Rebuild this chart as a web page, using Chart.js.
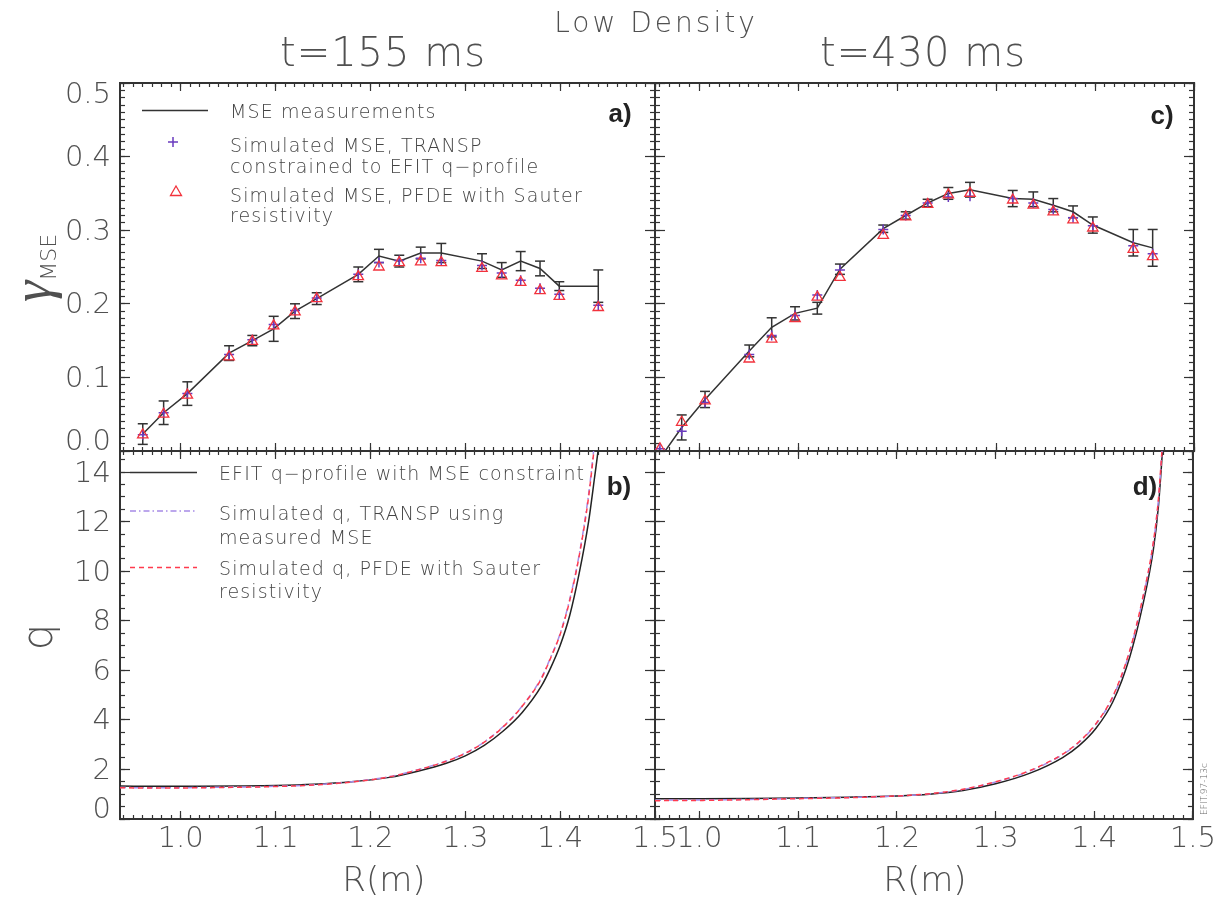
<!DOCTYPE html>
<html>
<head>
<meta charset="utf-8">
<title>Low Density</title>
<script src="https://cdn.jsdelivr.net/npm/chart.js"></script>
<style>
  body { margin: 0; background: #fff; }
  #wrap { position: relative; width: 1227px; height: 899px; overflow: hidden;
          font-family: "DejaVu Sans", sans-serif; font-weight: 200; color: #505050; }
  #wrap canvas { position: absolute; left: 0; top: 0; }
  #marks { position: absolute; left: 0; top: 0; }
  .c { position: absolute; white-space: nowrap; line-height: 1; transform: translate(-50%, -50%); }
  .rot { transform: translate(-50%, -50%) rotate(-90deg); }
  .l { position: absolute; white-space: nowrap; transform: translateY(-50%); color: #444;
       font-size: 19px; letter-spacing: 1.1px; line-height: 21px; }
  .tag { position: absolute; transform: translate(-50%, -50%); color: #222;
         font: bold 26px "Liberation Sans", Arial, sans-serif; }
  .gam { font-family: "Liberation Serif", serif; font-style: italic; font-weight: normal; font-size: 54px; }
</style>
</head>
<body>
<div id="wrap">
  <canvas id="pa" width="1227" height="899"></canvas>
  <canvas id="pb" width="1227" height="899"></canvas>
  <canvas id="pc" width="1227" height="899"></canvas>
  <canvas id="pd" width="1227" height="899"></canvas>

  <svg id="marks" width="1227" height="899">
    <line x1="142" y1="110.5" x2="208" y2="110.5" stroke="#333" stroke-width="1.5"/>
    <path d="M168 142h10M173 137v10" stroke="#6a3bbf" stroke-width="1.5" fill="none"/>
    <path d="M176 186l5.5 9.5h-11z" stroke="#f2323c" stroke-width="1.3" fill="none"/>
    <line x1="130" y1="472.5" x2="197" y2="472.5" stroke="#333" stroke-width="1.5"/>
    <line x1="130" y1="511" x2="197" y2="511" stroke="#a68be6" stroke-width="1.5" stroke-dasharray="6 3 1.5 3"/>
    <line x1="130" y1="567.5" x2="197" y2="567.5" stroke="#ff3b4e" stroke-width="1.5" stroke-dasharray="5 4"/>
  </svg>

  <div class="c" style="left:656px;top:23px;font-size:28px;letter-spacing:3px">Low Density</div>
  <div class="c" style="left:383px;top:52px;font-size:40px;letter-spacing:1px">t=155 ms</div>
  <div class="c" style="left:923px;top:52px;font-size:40px;letter-spacing:1px">t=430 ms</div>
  <div class="c" style="left:384px;top:879px;font-size:34px">R(m)</div>
  <div class="c" style="left:925px;top:879px;font-size:34px">R(m)</div>
  <div class="c rot" style="left:32px;top:268px;font-size:48px"><span class="gam">γ</span><span style="font-size:22px;position:relative;top:6px">MSE</span></div>
  <div class="c rot" style="left:38px;top:637px;font-size:42px">q</div>
  <div class="c rot" style="left:1204px;top:789px;font-size:9px;color:#666">EFIT.97-13c</div>

  <div class="tag" style="left:620px;top:113px">a)</div>
  <div class="tag" style="left:619px;top:486px">b)</div>
  <div class="tag" style="left:1162px;top:115px">c)</div>
  <div class="tag" style="left:1145px;top:486px">d)</div>

  <div class="l" style="left:230px;top:111px">MSE measurements</div>
  <div class="l" style="left:230px;top:156px">Simulated MSE, TRANSP<br>constrained to EFIT q−profile</div>
  <div class="l" style="left:230px;top:205px;line-height:20px">Simulated MSE, PFDE with Sauter<br>resistivity</div>
  <div class="l" style="left:219px;top:473px">EFIT q−profile with MSE constraint</div>
  <div class="l" style="left:219px;top:525px;line-height:24px">Simulated q, TRANSP using<br>measured MSE</div>
  <div class="l" style="left:219px;top:580px;line-height:23px">Simulated q, PFDE with Sauter<br>resistivity</div>
</div>

<script>
// gamma_MSE, t=155 ms (panel a)
var rA = [0.960, 0.982, 1.007, 1.051, 1.0755, 1.098, 1.1205, 1.1434, 1.1872, 1.209, 1.2304, 1.253, 1.2747, 1.3176, 1.3384, 1.3584, 1.3788, 1.3991, 1.4402];
var measA = [0.023, 0.052, 0.078, 0.133, 0.150, 0.166, 0.190, 0.207, 0.240, 0.265, 0.258, 0.269, 0.269, 0.258, 0.246, 0.258, 0.248, 0.224, 0.224];
var errA = [0.014, 0.016, 0.016, 0.010, 0.007, 0.017, 0.010, 0.008, 0.010, 0.009, 0.008, 0.008, 0.013, 0.010, 0.010, 0.013, 0.010, 0.006, 0.022];
var transpA = [0.022, 0.052, 0.078, 0.131, 0.151, 0.172, 0.191, 0.208, 0.240, 0.256, 0.259, 0.262, 0.259, 0.252, 0.242, 0.232, 0.221, 0.213, 0.198];
var pfdeA = [0.022, 0.050, 0.076, 0.128, 0.149, 0.170, 0.189, 0.207, 0.237, 0.250, 0.256, 0.257, 0.256, 0.248, 0.238, 0.229, 0.218, 0.210, 0.195];

// gamma_MSE, t=430 ms (panel c)
var rC = [0.960, 0.982, 1.0056, 1.0503, 1.073, 1.0966, 1.1191, 1.142, 1.1858, 1.2085, 1.2307, 1.2516, 1.2735, 1.3167, 1.3375, 1.3577, 1.3777, 1.3977, 1.4386, 1.4582];
var measC = [-0.010, 0.032, 0.070, 0.136, 0.168, 0.187, 0.194, 0.247, 0.302, 0.320, 0.337, 0.350, 0.355, 0.343, 0.342, 0.334, 0.325, 0.307, 0.283, 0.276];
var errC = [0.010, 0.017, 0.011, 0.008, 0.013, 0.009, 0.008, 0.007, 0.005, 0.005, 0.005, 0.008, 0.010, 0.011, 0.010, 0.009, 0.008, 0.011, 0.018, 0.025];
var transpC = [0.003, 0.027, 0.066, 0.131, 0.157, 0.184, 0.212, 0.246, 0.301, 0.320, 0.337, 0.345, 0.346, 0.343, 0.337, 0.328, 0.317, 0.306, 0.279, 0.268];
var pfdeC = [0.003, 0.039, 0.068, 0.125, 0.152, 0.180, 0.209, 0.236, 0.293, 0.318, 0.335, 0.348, 0.350, 0.341, 0.334, 0.325, 0.314, 0.303, 0.274, 0.264];

// q profiles, t=155 ms (panel b)
var rQB = [0.936, 0.98, 1.02, 1.06, 1.10, 1.14, 1.18, 1.22, 1.25, 1.28, 1.30, 1.32, 1.34, 1.36, 1.38, 1.39, 1.40, 1.41, 1.42, 1.43, 1.436, 1.441, 1.445];
var qEfitB = [1.33, 1.32, 1.32, 1.33, 1.35, 1.40, 1.50, 1.68, 1.93, 2.25, 2.55, 2.97, 3.55, 4.30, 5.35, 6.10, 7.00, 8.20, 9.90, 12.0, 13.7, 15.2, 16.8];
var qTranspB = [1.27, 1.26, 1.27, 1.29, 1.32, 1.38, 1.50, 1.71, 1.99, 2.34, 2.66, 3.11, 3.73, 4.56, 5.68, 6.52, 7.48, 8.85, 10.65, 13.1, 15.1, 16.9, 18.4];
var qPfdeB = [1.26, 1.25, 1.26, 1.28, 1.31, 1.37, 1.49, 1.70, 1.98, 2.33, 2.65, 3.10, 3.72, 4.55, 5.65, 6.50, 7.45, 8.80, 10.6, 13.0, 15.0, 16.8, 18.3];

// q profiles, t=430 ms (panel d)
var rQD = [0.955, 1.0, 1.05, 1.10, 1.15, 1.20, 1.233, 1.267, 1.30, 1.335, 1.368, 1.385, 1.402, 1.419, 1.436, 1.449, 1.46, 1.465, 1.468, 1.471];
var qEfitD = [0.82, 0.82, 0.83, 0.85, 0.88, 0.93, 1.00, 1.15, 1.42, 1.85, 2.48, 2.97, 3.67, 4.74, 6.54, 8.60, 10.9, 12.6, 14.2, 16.0];
var qTranspD = [0.76, 0.77, 0.79, 0.83, 0.87, 0.93, 1.01, 1.19, 1.49, 1.94, 2.60, 3.11, 3.84, 4.93, 6.76, 8.85, 11.15, 12.85, 14.45, 16.2];
var qPfdeD = [0.74, 0.75, 0.78, 0.82, 0.86, 0.93, 1.02, 1.20, 1.50, 1.96, 2.62, 3.13, 3.86, 4.96, 6.80, 8.90, 11.2, 12.9, 14.5, 16.3];

// axis ticks
var rTicks = [1.0, 1.1, 1.2, 1.3, 1.4, 1.5];
var gammaTicks = [0.0, 0.1, 0.2, 0.3, 0.4, 0.5];
var qTicks = [0, 2, 4, 6, 8, 10, 12, 14];

var W = 1227, H = 899;
var tickFont = { family: "DejaVu Sans", size: 29, weight: "200" };

function steps(from, to, step) {
  var out = [];
  var n = Math.round((to - from) / step);
  for (var i = 0; i <= n; i++) out.push(Math.round((from + i * step) * 1000) / 1000);
  return out;
}

function pts(xs, ys) {
  return xs.map(function (x, i) { return { x: x, y: ys[i] }; });
}

function bars(xs, ys, es) {
  var out = [];
  for (var i = 0; i < xs.length; i++) {
    out.push({ x: xs[i], y: ys[i] - es[i] });
    out.push({ x: xs[i], y: ys[i] + es[i] });
    out.push({ x: xs[i], y: null });
  }
  return out;
}

// o: vals, len (inward tick length), border, marks, fmt, offset
function axis(pos, rng, o) {
  var horiz = pos === "top" || pos === "bottom";
  var t = {
    display: !!o.fmt,
    autoSkip: false, maxRotation: 0, minRotation: 0,
    padding: horiz ? o.len + 3 : o.len + 9,
    labelOffset: o.offset || 0,
    color: "#505050",
    font: tickFont
  };
  if (o.fmt) t.callback = o.fmt;
  return {
    type: "linear", axis: horiz ? "x" : "y", position: pos,
    min: rng[0], max: rng[1], bounds: "data",
    afterBuildTicks: function (s) { s.ticks = o.vals.map(function (v) { return { value: v }; }); },
    afterFit: function (s) { if (horiz) s.height = 0; else s.width = 0; },
    grid: { display: !!o.marks, drawOnChartArea: false, drawTicks: true, tickLength: -o.len,
            tickColor: "#333", tickWidth: 1.2 },
    border: { display: !!o.border, color: "#333", width: 2 },
    ticks: t
  };
}

// the axes take no room of their own, so widen the box that tick labels are clipped to
var labelRoom = {
  id: "labelRoom",
  afterLayout: function (chart) {
    Object.keys(chart.scales).forEach(function (k) {
      var s = chart.scales[k];
      if (!s.options.ticks.display) return;
      if (s.options.position === "left") s.left = 0;
      if (s.options.position === "bottom") s.bottom = chart.height;
    });
  }
};

function fix1(v) { return v.toFixed(1); }
function fix0(v) { return String(Math.round(v)); }

function frame(xr, xMinor, yr, yMajor, yMinor, xLab, yLab) {
  var s = {
    x: axis("bottom", xr, { vals: rTicks, len: 8, border: true, marks: true, fmt: xLab ? fix1 : null }),
    x2: axis("bottom", xr, { vals: xMinor, len: 4, marks: true }),
    xt: axis("top", xr, { vals: rTicks, len: 8, border: true, marks: true }),
    xt2: axis("top", xr, { vals: xMinor, len: 4, marks: true }),
    y: axis("left", yr, { vals: yMajor, len: 10, border: true, marks: true }),
    y2: axis("left", yr, { vals: yMinor, len: 5, marks: true }),
    yr: axis("right", yr, { vals: yMajor, len: 10, border: true, marks: true }),
    yr2: axis("right", yr, { vals: yMinor, len: 5, marks: true })
  };
  if (yLab) {
    // labels at the frame edges sit inside the frame, as in the original plot
    var inner = yMajor.filter(function (v) { return v > yr[0] && v < yr[1]; });
    s.ylab = axis("left", yr, { vals: inner, len: 10, fmt: yLab, offset: 2 });
    s.ylo = axis("left", yr, { vals: [yr[0]], len: 10, fmt: yLab, offset: -9 });
    if (yMajor.indexOf(yr[1]) >= 0) s.yhi = axis("left", yr, { vals: [yr[1]], len: 10, fmt: yLab, offset: 12 });
  }
  return s;
}

function gammaSets(r, meas, err, transp, pfde) {
  return [
    { data: pts(r, meas), borderColor: "#333", borderWidth: 1.5, pointRadius: 0, order: 3 },
    { data: bars(r, meas, err), borderColor: "#333", borderWidth: 1.5, spanGaps: false,
      pointStyle: "line", pointRadius: 5, pointBorderColor: "#333", pointBorderWidth: 1.5, order: 2 },
    { data: pts(r, transp), showLine: false, pointStyle: "cross", pointRadius: 5,
      pointBorderColor: "#6a3bbf", pointBorderWidth: 1.5, order: 1 },
    { data: pts(r, pfde), showLine: false, pointStyle: "triangle", pointRadius: 6,
      pointBackgroundColor: "rgba(0,0,0,0)", pointBorderColor: "#f2323c", pointBorderWidth: 1.3, order: 0 }
  ];
}

function qSets(r, efit, transp, pfde) {
  return [
    { data: pts(r, efit), borderColor: "#222", borderWidth: 1.5, pointRadius: 0,
      cubicInterpolationMode: "monotone", order: 2 },
    { data: pts(r, transp), borderColor: "#a68be6", borderWidth: 1.5, borderDash: [6, 3, 1.5, 3],
      pointRadius: 0, cubicInterpolationMode: "monotone", order: 1 },
    { data: pts(r, pfde), borderColor: "#ff3b4e", borderWidth: 1.5, borderDash: [5, 4],
      pointRadius: 0, cubicInterpolationMode: "monotone", order: 0 }
  ];
}

function makeChart(id, area, datasets, scales) {
  return new Chart(document.getElementById(id), {
    type: "line",
    data: { datasets: datasets },
    options: {
      responsive: false,
      animation: false,
      events: [],
      layout: { padding: { left: area[0], top: area[1], right: W - area[2], bottom: H - area[3] } },
      plugins: { legend: { display: false }, tooltip: { enabled: false }, title: { display: false } },
      scales: scales
    },
    plugins: [labelRoom]
  });
}

var xrL = [0.936, 1.5], xrR = [0.955, 1.5];
var gRange = [0, 0.5], qRange = [0, 14.85];
var minorL = steps(0.94, 1.5, 0.01), minorR = steps(0.96, 1.5, 0.01);
var gMinor = steps(0, 0.5, 0.01), qMinor = steps(0, 14.5, 0.5);

makeChart("pa", [120, 83, 655, 451], gammaSets(rA, measA, errA, transpA, pfdeA),
  frame(xrL, minorL, gRange, gammaTicks, gMinor, false, fix1));
makeChart("pc", [655, 83, 1194, 451], gammaSets(rC, measC, errC, transpC, pfdeC),
  frame(xrR, minorR, gRange, gammaTicks, gMinor, false, null));
makeChart("pb", [120, 451, 655, 819], qSets(rQB, qEfitB, qTranspB, qPfdeB),
  frame(xrL, minorL, qRange, qTicks, qMinor, true, fix0));
makeChart("pd", [655, 451, 1194, 819], qSets(rQD, qEfitD, qTranspD, qPfdeD),
  frame(xrR, minorR, qRange, qTicks, qMinor, true, null));
</script>
</body>
</html>
